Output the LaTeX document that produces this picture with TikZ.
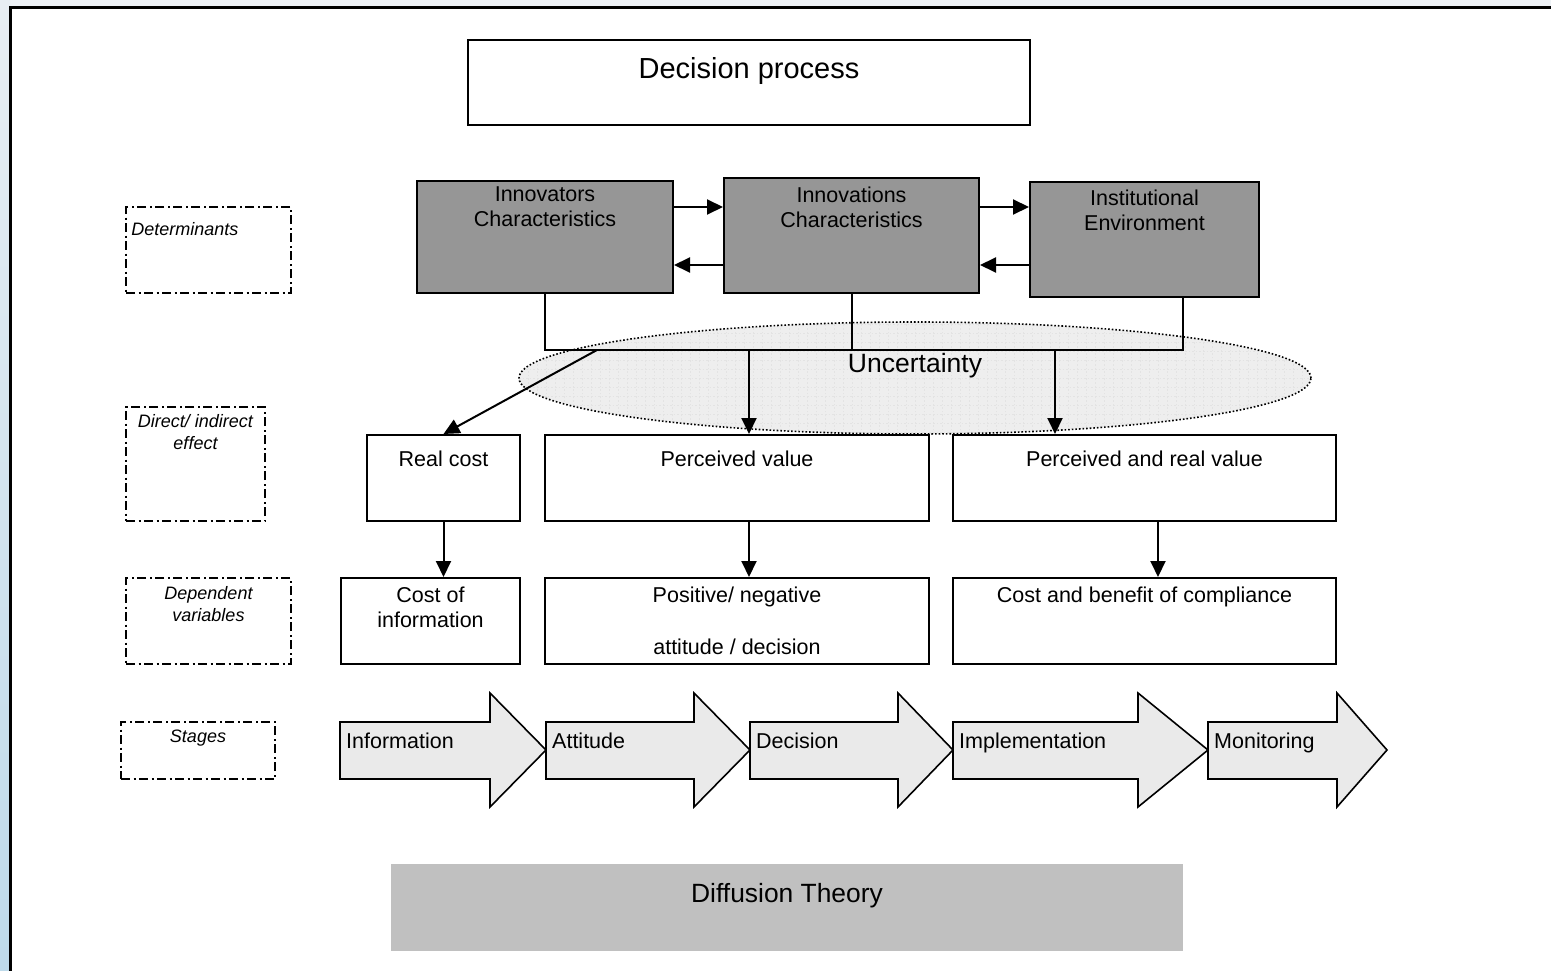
\documentclass[tikz,border=0pt]{standalone}
\usepackage{fontspec}
\setmainfont{Liberation Sans}
\usetikzlibrary{positioning, arrows.meta, shapes.geometric}
\definecolor{outerbg}{RGB}{238,242,246}
\definecolor{striptop}{RGB}{232,238,243}
\definecolor{stripbot}{RGB}{190,218,234}
\definecolor{detgray}{RGB}{150,150,150}
\definecolor{uncgray}{RGB}{238,238,238}
\definecolor{stagegray}{RGB}{234,234,234}
\definecolor{theorygray}{RGB}{192,192,192}

\begin{document}
\begin{tikzpicture}[x=1pt, y=-1pt,
        cell/.style={draw, line width=2pt, inner sep=0pt},
        detcell/.style={cell, fill=detgray},
        lbl/.style={inner sep=0pt, align=center, font=\fontsize{21.5}{25}\selectfont},
        sidebox/.style={draw, line width=1.8pt, dash pattern=on 9pt off 3.5pt on 2pt off 3.5pt},
        sidelbl/.style={inner sep=0pt, align=center, font=\fontsize{18}{22}\selectfont\itshape},
        arr/.style={line width=2pt, -{Triangle[length=16pt, width=15pt]}},
        link/.style={line width=2pt},
        stage/.style={draw, line width=1.6pt, fill=stagegray}]
    \useasboundingbox (0,0) rectangle (1551,971);
    \fill[outerbg] (0,0) rectangle (1551,971);
    \shade[top color=striptop, bottom color=stripbot] (0,0) rectangle (10,971);
    \fill[white] (10,8) rectangle (1551,971);
    \draw[line width=3pt] (1551,8) -- (10.5,8) -- (10.5,971);

    \node[cell, minimum width=562, minimum height=85] (dp) at (749,82.5) {};
    \node[lbl, font=\fontsize{29}{34}\selectfont, below=18pt of dp.north] (dpt) {Decision process};

    \node[sidebox, minimum width=165, minimum height=86] (det) at (208.5,250) {};
    \node[sidelbl, below right=16.5pt and 6pt of det.north west] (dett) {Determinants};
    \node[sidebox, minimum width=139, minimum height=114] (die) at (195.5,464) {};
    \node[sidelbl, below=8.5pt of die.north] (diet) {Direct/ indirect\\effect};
    \node[sidebox, minimum width=165, minimum height=86] (dv) at (208.5,621) {};
    \node[sidelbl, below=9.5pt of dv.north] (dvt) {Dependent\\variables};
    \node[sidebox, minimum width=154, minimum height=57] (stg) at (198,750.5) {};
    \node[sidelbl, below=8.5pt of stg.north] (stgt) {Stages};

    \node[detcell, minimum width=256, minimum height=112] (inr) at (545,237) {};
    \node[lbl, below=7pt of inr.north] (inrt) {Innovators\\Characteristics};
    \node[detcell, minimum width=255, minimum height=115] (inv) at (851.5,235.5) {};
    \node[lbl, below=10pt of inv.north] (invt) {Innovations\\Characteristics};
    \node[detcell, minimum width=229, minimum height=115] (inst) at (1144.5,239.5) {};
    \node[lbl, below=9pt of inst.north] (instt) {Institutional\\Environment};

    \coordinate (hi) at (0,207);
    \coordinate (lo) at (0,265);
    \path[arr] (inr.east |- hi) edge (inv.west |- hi)
               (inv.east |- hi) edge (inst.west |- hi)
               (inv.west |- lo) edge (inr.east |- lo)
               (inst.west |- lo) edge (inv.east |- lo);

    \node[draw, ellipse, dotted, line width=1.6pt, fill=uncgray,
          minimum width=792, minimum height=112,
          path picture={\draw[gray!22, line width=0.5pt, step=9pt] (path picture bounding box.south west) grid (path picture bounding box.north east);}]
          (unc) at (915,378) {};
    \node[lbl, font=\fontsize{26.5}{30}\selectfont, anchor=base] (unct) at (915,372.5) {Uncertainty};

    \node[cell, minimum width=153, minimum height=86] (rc) at (443.5,478) {};
    \node[lbl, below=17pt of rc.north] (rct) {Real cost};
    \node[cell, minimum width=384, minimum height=86] (pv) at (737,478) {};
    \node[lbl, below=17pt of pv.north] (pvt) {Perceived value};
    \node[cell, minimum width=383, minimum height=86] (prv) at (1144.5,478) {};
    \node[lbl, below=17pt of prv.north] (prvt) {Perceived and real value};

    \node[cell, minimum width=179, minimum height=86] (coi) at (430.5,621) {};
    \node[lbl, below=10pt of coi.north] (coit) {Cost of\\information};
    \node[cell, minimum width=384, minimum height=86] (pos) at (737,621) {};
    \node[lbl, below=10pt of pos.north] (post) {Positive/ negative\\[27pt]attitude / decision};
    \node[cell, minimum width=383, minimum height=86] (cbc) at (1144.5,621) {};
    \node[lbl, below=10pt of cbc.north] (cbct) {Cost and benefit of compliance};

    \coordinate (bar) at (0,350);
    \coordinate (barr) at (1183,350);
    \draw[link] (inr.south) -- (inr.south |- bar) -- (barr) -- (barr |- inst.south);
    \draw[link] (inv.south) -- (inv.south |- bar);

    \coordinate (d1) at (597,350);
    \coordinate (d2) at (749,350);
    \coordinate (d3) at (1055,350);
    \coordinate (v3) at (1158,0);
    \path[arr] (d1) edge (rc.north)
               (d2) edge (d2 |- pv.north)
               (d3) edge (d3 |- prv.north)
               (rc.south) edge (rc.south |- coi.north)
               (d2 |- pv.south) edge (d2 |- pos.north)
               (v3 |- prv.south) edge (v3 |- cbc.north);

    \foreach \l/\b/\t/\name/\txt in {340/490/546/s1/Information, 546/694/750/s2/Attitude,
            750/898/953/s3/Decision, 953/1138/1208/s4/Implementation, 1208/1337/1387/s5/Monitoring}
    {
        \draw[stage] (\l,722) -- (\b,722) -- (\b,693) -- (\t,750) -- (\b,807) -- (\b,779) -- (\l,779) -- cycle;
        \node[lbl, anchor=base west] (\name) at (\l+6,748.5) {\txt};
    }

    \node[fill=theorygray, minimum width=792, minimum height=87, inner sep=0pt] (dft) at (787,907.5) {};
    \node[lbl, font=\fontsize{26.4}{30}\selectfont, below=19pt of dft.north] (dftt) {Diffusion Theory};
\end{tikzpicture}
\end{document}
